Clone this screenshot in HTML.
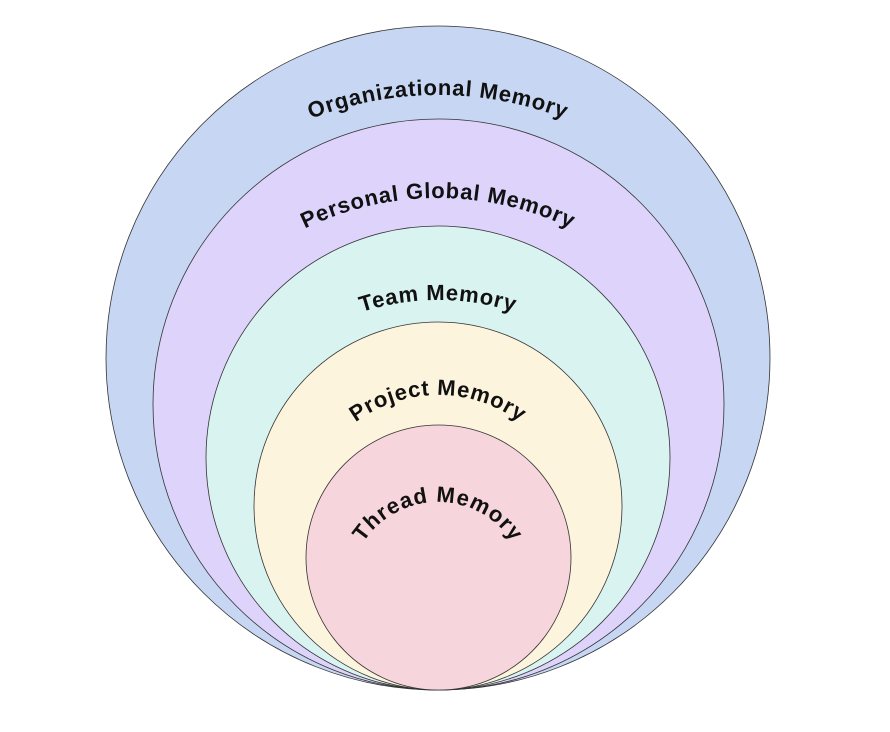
<!DOCTYPE html>
<html><head><style>body{margin:0;background:#fff}svg{display:block}</style></head>
<body>
<svg width="890" height="732" viewBox="0 0 890 732" xmlns="http://www.w3.org/2000/svg">
<defs>
<path id="p1" d="M88 445 A350 350 0 0 1 788 445"/>
<path id="p2" d="M133 503 A305 305 0 0 1 743 503"/>
<path id="p3" d="M190 548 A248 248 0 0 1 686 548"/>
<path id="p4" d="M300 533 A138 138 0 0 1 576 533"/>
<path id="p5" d="M349 591 A89 89 0 0 1 527 591"/>
</defs>
<g stroke="#333" stroke-width="0.8">
<circle cx="438" cy="358" r="332" fill="#c6d6f3"/>
<circle cx="438.5" cy="404.5" r="285.5" fill="#ddd3fb"/>
<circle cx="438" cy="458" r="232" fill="#d9f3f1"/>
<circle cx="438" cy="506" r="184" fill="#fdf4de"/>
<circle cx="438.5" cy="557.5" r="132.5" fill="#f6d5dc"/>
</g>
<g font-family="Liberation Sans, sans-serif" font-weight="bold" font-size="22" fill="#111" text-anchor="middle" letter-spacing="0.8">
<text><textPath href="#p1" startOffset="50%">Organizational Memory</textPath></text>
<text><textPath href="#p2" startOffset="50%">Personal Global Memory</textPath></text>
<text><textPath href="#p3" startOffset="50%">Team Memory</textPath></text>
<text><textPath href="#p4" startOffset="50%">Project Memory</textPath></text>
<text letter-spacing="1"><textPath href="#p5" startOffset="50%">Thread Memory</textPath></text>
</g>
</svg>
</body></html>
